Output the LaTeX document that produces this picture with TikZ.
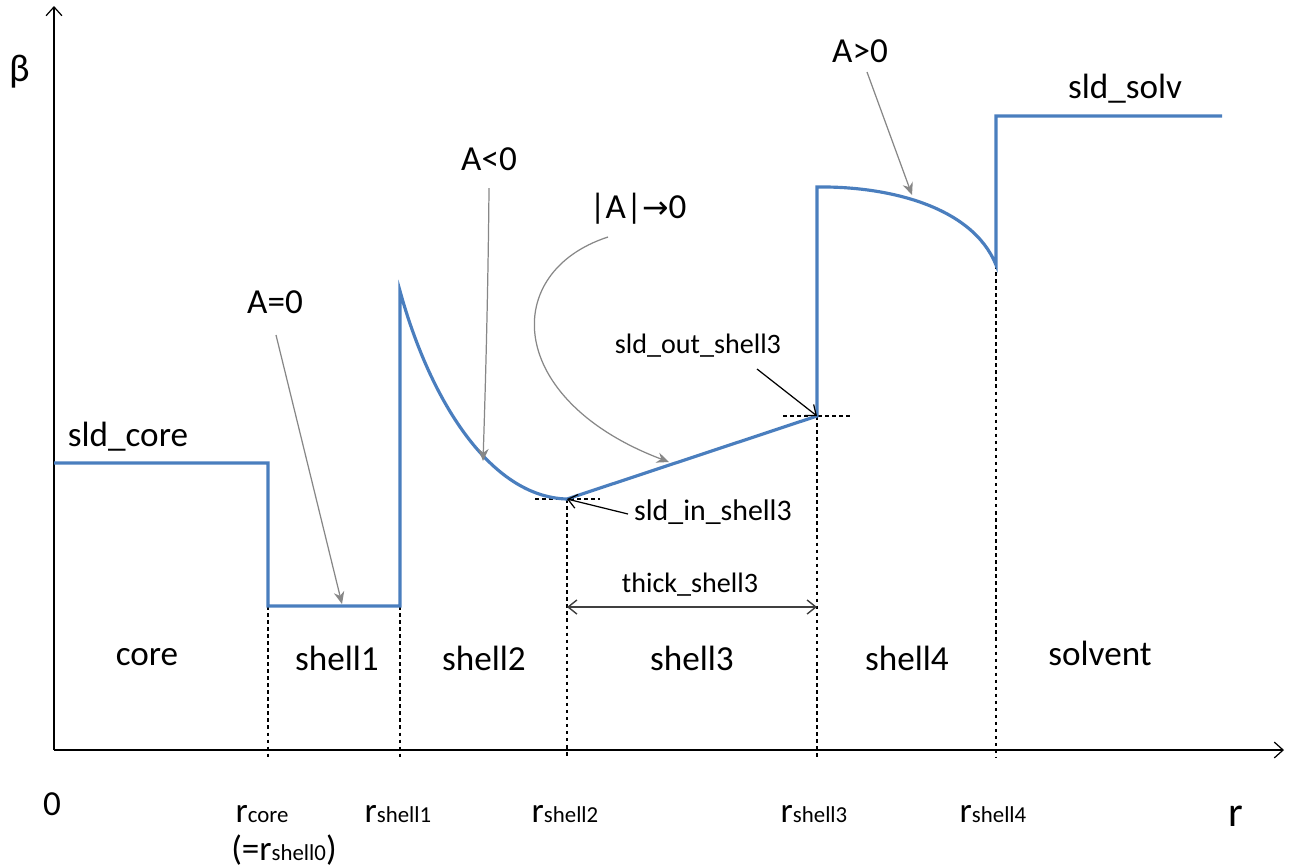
\documentclass[tikz,border=0pt]{standalone}
\usepackage{fontspec}
\setmainfont{Carlito}
\newfontfamily\symfont{DejaVu Sans}
\usetikzlibrary{arrows.meta}
\definecolor{prof}{RGB}{74,126,190}
\definecolor{annot}{RGB}{135,135,135}
\tikzset{
 profile/.style={prof, line width=1.8pt, line join=miter},
 guide/.style={black, line width=0.6pt, dash pattern=on 2pt off 2pt},
 lab/.style={font=\fontsize{20}{24}\selectfont, inner sep=0pt, anchor=base},
 smalllab/.style={font=\fontsize{16}{19}\selectfont, inner sep=0pt, anchor=base},
 annotarrow/.style={annot, line width=0.7pt, -{Stealth[length=7pt,width=6pt]}},
 blackarrow/.style={black, line width=0.7pt, -{Straight Barb[length=5pt,width=8pt]}},
 dimarrow/.style={black!75, line width=0.8pt, {Straight Barb[length=5pt,width=8pt]}-{Straight Barb[length=5pt,width=8pt]}},
 axisline/.style={black, line width=0.7pt, -{Straight Barb[length=5pt,width=9pt]}},
}
\newcommand{\rsub}[1]{r{\fontsize{13}{15}\selectfont #1}}
\begin{document}
\begin{tikzpicture}[x=0.02cm,y=-0.02cm]
\path[use as bounding box] (0,0) rectangle (1290,867);
% axes
\coordinate (O) at (54,750);
\coordinate (ytop) at (54,6);
\coordinate (xend) at (1284,750);
% profile points
\coordinate (p0) at (54,463);
\coordinate (p1) at (268,463);
\coordinate (p2) at (268,606);
\coordinate (p3) at (400,606);
\coordinate (p4) at (400,291);
\coordinate (p5) at (567,499);
\coordinate (p6) at (817,416);
\coordinate (p7) at (817,187);
\coordinate (p8) at (996,265);
\coordinate (p9) at (996,116);
\coordinate (p10) at (1222,116);
% axis foot points
\coordinate (b1) at (268,757);
\coordinate (b2) at (400,757);
\coordinate (b3) at (567,757);
\coordinate (b4) at (817,757);
\coordinate (b5) at (996,757);
% guides
\draw[guide] (p2) -- (b1);
\draw[guide] (p3) -- (b2);
\draw[guide] (p5) -- (b3);
\draw[guide] (p6) -- (b4);
\draw[guide] (p8) -- (b5);
\coordinate (h1l) at (535,499); \coordinate (h1r) at (600,499);
\coordinate (h2l) at (783,416); \coordinate (h2r) at (852,416);
\draw[guide] (h1l) -- (h1r);
\draw[guide] (h2l) -- (h2r);
% axes
\draw[axisline] (O) -- (ytop);
\draw[axisline] (O) -- (xend);
% profile
\draw[profile] (p0) -- (p1) -- (p2) -- (p3) -- (p4)
  .. controls (430,400) and (490,497) .. (p5) -- (p6) -- (p7)
  .. controls (885,186) and (972,205) .. (p8) -- (p9) -- (p10);
% labels
\node[lab, anchor=center, font=\fontsize{22}{26}\selectfont] (beta) at (20,72) {β};
\node[lab] (sldcore) at (128,446) {sld\_core};
\node[lab] (tA0) at (275,313) {A=0};
\node[lab] (tAneg) at (489,170) {A<0};
\node[lab] (tAabs) at (638,218) {|A|{\symfont\fontsize{18}{22}\selectfont→}0};
\node[lab] (tApos) at (860,62) {A>0};
\node[lab] (sldsolv) at (1125,98) {sld\_solv};
\node[smalllab] (sldout) at (698,353) {sld\_out\_shell3};
\node[smalllab, font=\fontsize{17}{20}\selectfont] (sldin) at (713,520) {sld\_in\_shell3};
\node[smalllab] (thick) at (690,592) {thick\_shell3};
\node[lab] (lcore) at (147,665) {core};
\node[lab] (ls1) at (337,670) {shell1};
\node[lab] (ls2) at (484,670) {shell2};
\node[lab] (ls3) at (692,670) {shell3};
\node[lab] (ls4) at (907,670) {shell4};
\node[lab] (lsolv) at (1100,665) {solvent};
% bottom labels
\node[lab] (zero) at (52,815) {0};
\node[lab] (rcore) at (262,822) {\rsub{core}};
\node[lab] (rs0) at (284,860) {(={\rsub{shell0}})};
\node[lab] (rs1) at (398,822) {\rsub{shell1}};
\node[lab] (rs2) at (565,822) {\rsub{shell2}};
\node[lab] (rs3) at (814,822) {\rsub{shell3}};
\node[lab] (rs4) at (993,822) {\rsub{shell4}};
\node[lab, font=\fontsize{24}{28}\selectfont] (raxis) at (1236,826) {r};
% annotation arrows
\coordinate (a0s) at (276,335); \coordinate (a0e) at (342,604);
\draw[annotarrow] (a0s) -- (a0e);
\coordinate (a1s) at (489,188); \coordinate (a1e) at (483,461);
\draw[annotarrow] (a1s) .. controls (488,300) and (485,400) .. (a1e);
\coordinate (a2s) at (608,237); \coordinate (a2e) at (669,462);
\draw[annotarrow] (a2s) .. controls (500,272) and (505,400) .. (a2e);
\coordinate (a3s) at (867,72); \coordinate (a3e) at (912,195);
\draw[annotarrow] (a3s) -- (a3e);
\coordinate (a4s) at (757,369);
\draw[blackarrow] (a4s) -- (p6);
\coordinate (a5s) at (628,514);
\draw[blackarrow] (a5s) -- (p5);
\coordinate (d1) at (567,607); \coordinate (d2) at (817,607);
\draw[dimarrow] (d1) -- (d2);
\end{tikzpicture}
\end{document}
